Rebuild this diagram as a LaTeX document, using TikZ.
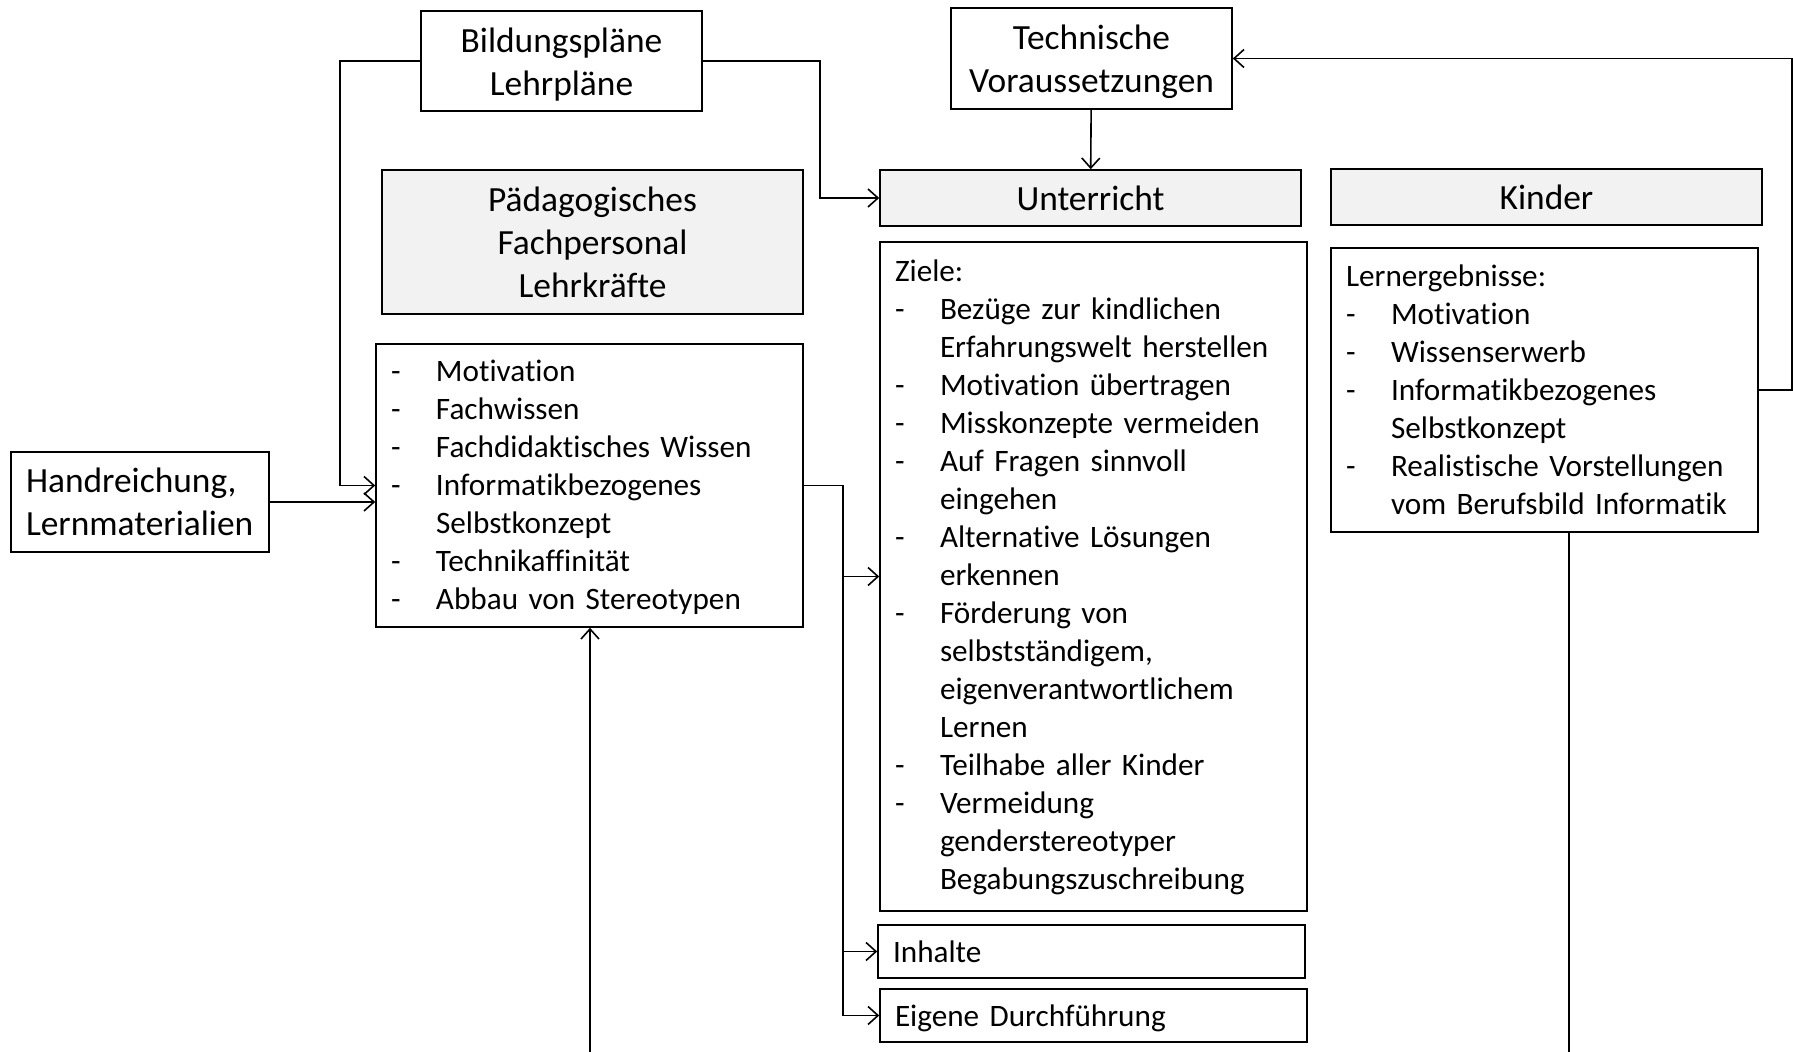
\documentclass[tikz,border=0pt]{standalone}
\usepackage{fontspec}
\setmainfont{Carlito}[Ligatures={NoCommon,NoRequired,NoContextual,NoDiscretionary},Contextuals=NoAlternate]
\usetikzlibrary{arrows.meta}

\newcommand{\headfont}{\fontsize{17.7}{21.5}\selectfont}
\newcommand{\listfont}{\fontsize{15.6}{19}\selectfont}
\newcommand{\listdash}[1]{\makebox[22.5pt][l]{-}#1}
\newcommand{\listcont}[1]{\hspace*{22.5pt}#1}

\tikzset{
  box/.style={draw, line width=0.8pt, inner xsep=7.5pt, inner ysep=0pt, font=\headfont, align=center},
  headbox/.style={box, fill=gray!10},
  listbox/.style={box, font=\listfont, align=left, text width=198.5pt, minimum width=213.5pt},
  lowtext/.style={execute at begin node={\rule{0pt}{#1}}},
  conn/.style={line width=0.8pt, -{Straight Barb[length=5pt,width=9pt]}},
  link/.style={line width=0.8pt}
}

\begin{document}
\begin{tikzpicture}[x=0.5pt, y=-0.5pt]
    \useasboundingbox (0,0) rectangle (1793,1052);

    % Rahmen
    \node[box, lowtext=0.87em, text width=125.5pt, minimum height=50pt] (bildung) at (561.5,61) {Bildungspläne\\Lehrpläne};
    \node[box, lowtext=0.87em, text width=125.5pt, minimum height=50.5pt] (technik) at (1091.5,58.5) {Technische\\Voraussetzungen};
    \node[box, align=left, text width=114pt, minimum width=129pt, minimum height=50pt] (hand) at (140,502) {Handreichung,\\Lernmaterialien};

    % Pädagogisches Fachpersonal
    \node[headbox, minimum width=210.5pt, minimum height=72pt] (paed) at (592.5,242) {Pädagogisches\\Fachpersonal\\Lehrkräfte};
    \node[listbox, lowtext=0.8em, minimum height=141.5pt] (lkbox) at (589.5,485.5) {%
        \listdash{Motivation}\\
        \listdash{Fachwissen}\\
        \listdash{Fachdidaktisches Wissen}\\
        \listdash{Informatikbezogenes}\\
        \listcont{Selbstkonzept}\\
        \listdash{Technikaffinität}\\
        \listdash{Abbau von Stereotypen}};

    % Unterricht
    \node[headbox, minimum width=210.5pt, minimum height=28pt] (unterricht) at (1090.5,198) {Unterricht};
    \node[listbox, lowtext=0.75em, minimum height=334.5pt] (ziele) at (1093.5,576.5) {%
        Ziele:\\
        \listdash{Bezüge zur kindlichen}\\
        \listcont{Erfahrungswelt herstellen}\\
        \listdash{Motivation übertragen}\\
        \listdash{Misskonzepte vermeiden}\\
        \listdash{Auf Fragen sinnvoll}\\
        \listcont{eingehen}\\
        \listdash{Alternative Lösungen}\\
        \listcont{erkennen}\\
        \listdash{Förderung von}\\
        \listcont{selbstständigem,}\\
        \listcont{eigenverantwortlichem}\\
        \listcont{Lernen}\\
        \listdash{Teilhabe aller Kinder}\\
        \listdash{Vermeidung}\\
        \listcont{genderstereotyper}\\
        \listcont{Begabungszuschreibung}};
    \node[listbox, minimum height=26.5pt] (inhalte) at (1091.5,951.5) {Inhalte};
    \node[listbox, lowtext=0.9em, minimum height=26.5pt] (eigene) at (1093.5,1015.5) {Eigene Durchführung};

    % Kinder
    \node[headbox, minimum width=215.5pt, minimum height=28pt] (kinder) at (1546.5,197) {Kinder};
    \node[listbox, minimum height=142pt] (lern) at (1544.5,390) {%
        Lernergebnisse:\\
        \listdash{Motivation}\\
        \listdash{Wissenserwerb}\\
        \listdash{Informatikbezogenes}\\
        \listcont{Selbstkonzept}\\
        \listdash{Realistische Vorstellungen}\\
        \listcont{vom Berufsbild Informatik}};

    % free ends at the lower edge
    \coordinate (lkin) at (590,1052);
    \coordinate (lernout) at (1569,1052);

    % Connectors
    \draw[conn] (bildung.west) -- ++(-80,0) |- (lkbox.west);
    \draw[conn] (hand.east) -- (hand.east -| lkbox.west);
    \draw[conn] (bildung.east) -- ++(117,0) |- (unterricht.west);
    \draw[conn] (technik) -- (unterricht);
    \draw[conn] (lern.east) -- ++(33,0) |- (technik.east);
    \draw[link] (lkbox.east) -- ++(39,0) coordinate (split);
    \draw[conn] (split) |- (ziele.west);
    \draw[conn] (split) |- (inhalte.west);
    \draw[conn] (split) |- (eigene.west);
    \draw[conn] (lkin) -- (lkin |- lkbox.south);
    \draw[link] (lernout |- lern.south) -- (lernout);
\end{tikzpicture}
\end{document}
